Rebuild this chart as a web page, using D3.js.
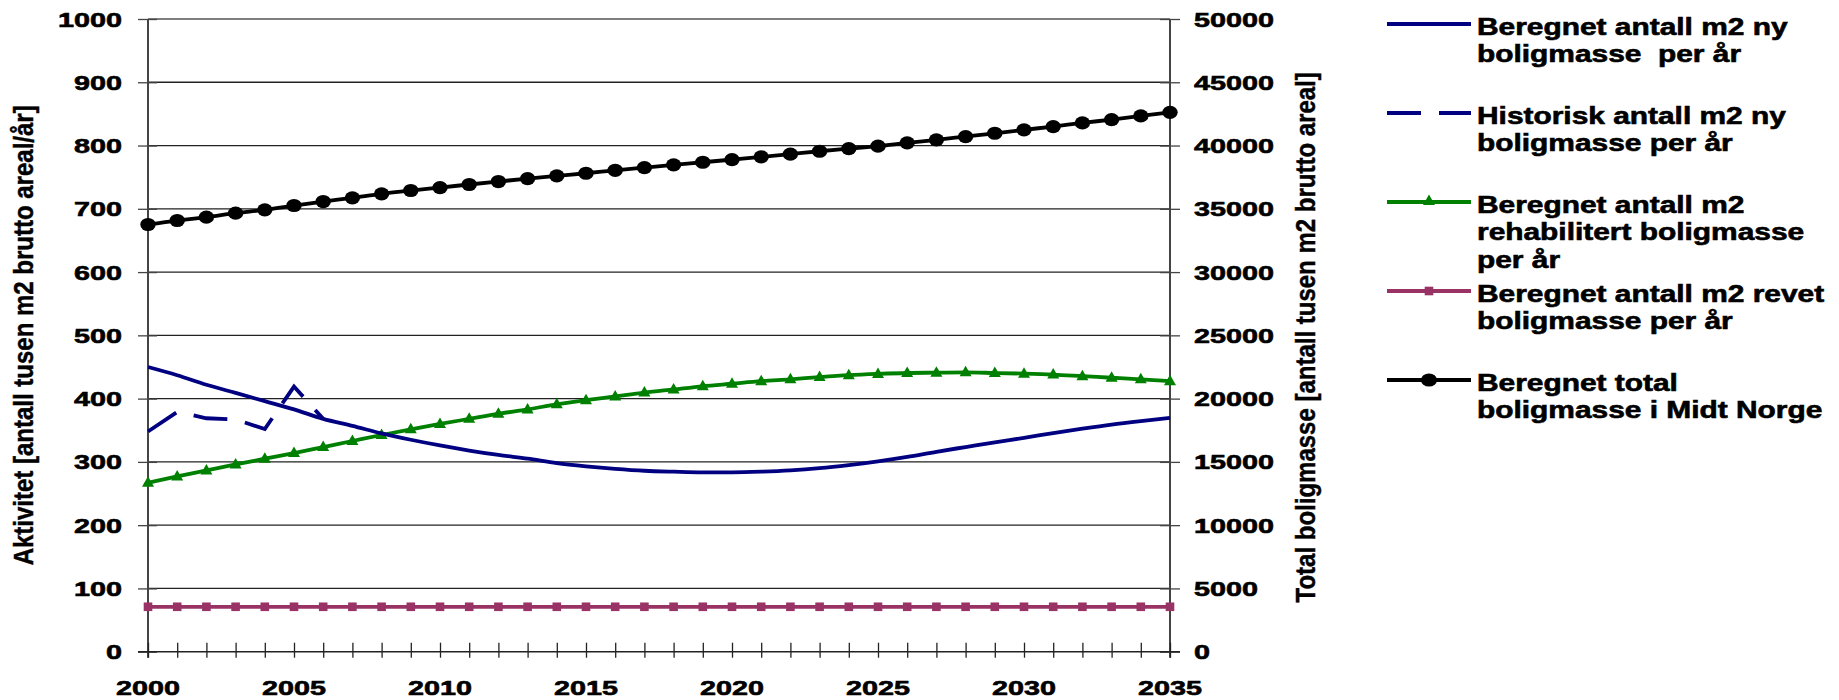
<!DOCTYPE html>
<html>
<head>
<meta charset="utf-8">
<script src="https://cdn.jsdelivr.net/npm/d3@7"></script>
<style>
  html, body { margin: 0; padding: 0; background: #fff; }
  svg { display: block; }
  text { font-family: "Liberation Sans", Arial, sans-serif; font-weight: bold; fill: #000; white-space: pre; }
  .heavy { stroke: #000; stroke-width: 0.6px; }
</style>
</head>
<body>
<svg id="chart" width="1839" height="700"></svg>
<script>
// Years on the x axis
const years = [2000, 2001, 2002, 2003, 2004, 2005, 2006, 2007, 2008, 2009,
  2010, 2011, 2012, 2013, 2014, 2015, 2016, 2017, 2018, 2019,
  2020, 2021, 2022, 2023, 2024, 2025, 2026, 2027, 2028, 2029,
  2030, 2031, 2032, 2033, 2034, 2035];

// Calculated new housing area per year (thousand m2, left axis)
const newArea = [450, 437, 422, 409, 396, 383, 368, 357, 345, 335,
  326, 318, 311, 305, 298, 293, 289, 286, 284.5, 283.5,
  283.5, 284.5, 286.5, 290, 295, 301, 308, 316, 323.5, 331,
  338, 345.5, 352.5, 359, 364.5, 369.5];

// Historical new housing area per year (left axis)
const histYears = [2000, 2001, 2002, 2003, 2004, 2005, 2006];
const histArea = [348, 379, 369, 367, 352, 419, 368];

// Rehabilitated housing area per year (left axis)
const rehabArea = [267, 277, 286.5, 296, 305, 314, 323.5, 333, 342.5, 351.5,
  360, 368, 376, 383, 391, 397.5, 403.5, 409.5, 414.5, 419.5,
  423.5, 427.5, 430.5, 434, 437, 439, 440.5, 441, 441.5, 440.5,
  439.5, 438, 435.5, 433, 430.5, 427.5];

// Demolished housing area per year (left axis)
const demolishedArea = [71, 71, 71, 71, 71, 71, 71, 71, 71, 71,
  71, 71, 71, 71, 71, 71, 71, 71, 71, 71,
  71, 71, 71, 71, 71, 71, 71, 71, 71, 71,
  71, 71, 71, 71, 71, 71];

// Total housing stock in Midt-Norge (thousand m2, right axis)
const totalStock = [33760, 34075, 34340, 34655, 34920, 35260, 35575, 35870, 36185, 36445,
  36680, 36920, 37155, 37390, 37605, 37810, 38045, 38260, 38475, 38680,
  38890, 39105, 39325, 39550, 39750, 39950, 40215, 40450, 40710, 40970,
  41240, 41500, 41790, 42050, 42340, 42625];

// Tick values
const leftTicks = [0, 100, 200, 300, 400, 500, 600, 700, 800, 900, 1000];
const rightTicks = [0, 5000, 10000, 15000, 20000, 25000, 30000, 35000, 40000, 45000, 50000];
const yearLabels = [2000, 2005, 2010, 2015, 2020, 2025, 2030, 2035];

const legendItems = [
  { key: "new", lines: ["Beregnet antall m2 ny", "boligmasse  per år"] },
  { key: "hist", lines: ["Historisk antall m2 ny", "boligmasse per år"] },
  { key: "rehab", lines: ["Beregnet antall m2", "rehabilitert boligmasse", "per år"] },
  { key: "demol", lines: ["Beregnet antall m2 revet", "boligmasse per år"] },
  { key: "total", lines: ["Beregnet total", "boligmasse i Midt Norge"] }
];

const colors = { new: "#000080", hist: "#000080", rehab: "#008000", demol: "#993366", total: "#000000" };
const lineW = 3.8;

const svg = d3.select("#chart");

const plot = { left: 148, right: 1170, top: 19, bottom: 651.7 };
const x = d3.scaleLinear().domain([2000, 2035]).range([plot.left, plot.right]);
const yL = d3.scaleLinear().domain([0, 1000]).range([plot.bottom, plot.top]);
const yR = d3.scaleLinear().domain([0, 50000]).range([plot.bottom, plot.top]);

// Horizontal gridlines
svg.append("g").selectAll("line").data(leftTicks.filter(d => d > 0)).join("line")
  .attr("x1", plot.left).attr("x2", plot.right)
  .attr("y1", d => yL(d)).attr("y2", d => yL(d))
  .attr("stroke", (d) => d === 1000 ? "#555" : "#222").attr("stroke-width", 1.3);

// Left axis
const leftAxis = svg.append("g").attr("transform", `translate(${plot.left},0)`)
  .call(d3.axisLeft(yL).tickValues(leftTicks).tickSize(0).tickFormat(""));
leftAxis.select(".domain").remove();
leftAxis.selectAll(".tick line").attr("x1", -10).attr("x2", 9).attr("stroke", "#444").attr("stroke-width", 1.3);
svg.append("line").attr("x1", plot.left).attr("x2", plot.left).attr("y1", plot.top).attr("y2", plot.bottom + 6)
  .attr("stroke", "#444").attr("stroke-width", 2);

// Right axis
const rightAxis = svg.append("g").attr("transform", `translate(${plot.right},0)`)
  .call(d3.axisRight(yR).tickValues(rightTicks).tickSize(0).tickFormat(""));
rightAxis.select(".domain").remove();
rightAxis.selectAll(".tick line").attr("x1", -10).attr("x2", 10).attr("stroke", "#444").attr("stroke-width", 1.3);
svg.append("line").attr("x1", plot.right).attr("x2", plot.right).attr("y1", plot.top).attr("y2", plot.bottom + 6)
  .attr("stroke", "#444").attr("stroke-width", 2);

// Bottom axis with yearly ticks
const bottomAxis = svg.append("g").attr("transform", `translate(0,${plot.bottom})`)
  .call(d3.axisBottom(x).tickValues(years).tickSize(0).tickFormat(""));
bottomAxis.select(".domain").remove();
bottomAxis.selectAll(".tick line").attr("y1", -9).attr("y2", 6).attr("stroke", "#222").attr("stroke-width", 1.3);
svg.append("line").attr("x1", plot.left - 10).attr("x2", plot.right + 10).attr("y1", plot.bottom).attr("y2", plot.bottom)
  .attr("stroke", "#222").attr("stroke-width", 1.5);

// Horizontally stretched text helper
function label(g, str, tx, ty, size, sx, anchor) {
  return g.append("text")
    .attr("class", "heavy")
    .attr("transform", `translate(${tx},${ty}) scale(${sx},1)`)
    .attr("text-anchor", anchor)
    .style("font-size", size + "px")
    .text(str);
}

const tickFont = 21, tickSX = 1.37;
const lbl = svg.append("g");
leftTicks.forEach(d => label(lbl, String(d), 122, yL(d) + 7.5, tickFont, tickSX, "end"));
rightTicks.forEach(d => label(lbl, String(d), 1194, yR(d) + 7.5, tickFont, tickSX, "start"));
yearLabels.forEach(d => label(lbl, String(d), x(d), 695, tickFont, tickSX, "middle"));

// Axis titles
svg.append("text")
  .attr("class", "heavy").style("stroke-width", "0.4px")
  .attr("transform", `translate(33,${(plot.top + plot.bottom) / 2}) scale(1.16,1) rotate(-90)`)
  .attr("text-anchor", "middle").style("font-size", "24px")
  .text("Aktivitet [antall tusen m2 brutto areal/år]");
svg.append("text")
  .attr("class", "heavy").style("stroke-width", "0.4px")
  .attr("transform", `translate(1315,${(plot.top + plot.bottom) / 2 + 2}) scale(1.16,1) rotate(-90)`)
  .attr("text-anchor", "middle").style("font-size", "24px")
  .text("Total boligmasse [antall tusen m2 brutto areal]");

// Series
const lineL = (xs, ys) => d3.line().x((d, i) => x(xs[i])).y(d => yL(d)).curve(d3.curveMonotoneX)(ys);
const lineR = (xs, ys) => d3.line().x((d, i) => x(xs[i])).y(d => yR(d)).curve(d3.curveMonotoneX)(ys);

const series = svg.append("g");

// Demolished (squares)
series.append("path").attr("d", lineL(years, demolishedArea))
  .attr("fill", "none").attr("stroke", colors.demol).attr("stroke-width", lineW);
series.append("g").selectAll("rect").data(demolishedArea).join("rect")
  .attr("x", (d, i) => x(years[i]) - 4.3).attr("y", d => yL(d) - 4.3)
  .attr("width", 8.6).attr("height", 8.6).attr("fill", colors.demol);

// Rehabilitated (triangles)
series.append("path").attr("d", lineL(years, rehabArea))
  .attr("fill", "none").attr("stroke", colors.rehab).attr("stroke-width", lineW);
const tri = (cx, cy) => `M${cx},${cy - 6.5}L${cx + 6},${cy + 4}L${cx - 6},${cy + 4}Z`;
series.append("g").selectAll("path").data(rehabArea).join("path")
  .attr("d", (d, i) => tri(x(years[i]), yL(d))).attr("fill", colors.rehab);

// Calculated new area
series.append("path").attr("d", lineL(years, newArea))
  .attr("fill", "none").attr("stroke", colors.new).attr("stroke-width", lineW);

// Historical new area (dashed)
series.append("path").attr("d", d3.line().x((d, i) => x(histYears[i])).y(d => yL(d))(histArea))
  .attr("fill", "none").attr("stroke", colors.hist).attr("stroke-width", lineW)
  .attr("stroke-dasharray", "34,18");

// Total stock (circles, right axis)
series.append("path").attr("d", lineR(years, totalStock))
  .attr("fill", "none").attr("stroke", colors.total).attr("stroke-width", lineW);
series.append("g").selectAll("ellipse").data(totalStock).join("ellipse")
  .attr("cx", (d, i) => x(years[i])).attr("cy", d => yR(d))
  .attr("rx", 7.7).attr("ry", 6.6).attr("fill", colors.total);

// Legend
const legendY = { new: 24, hist: 113, rehab: 202, demol: 291, total: 380 };
const lg = svg.append("g");
legendItems.forEach(item => {
  const ly = legendY[item.key];
  const c = colors[item.key];
  const ln = lg.append("line").attr("x1", 1387).attr("x2", 1471).attr("y1", ly).attr("y2", ly)
    .attr("stroke", c).attr("stroke-width", lineW);
  if (item.key === "hist") ln.attr("stroke-dasharray", "34,18");
  if (item.key === "rehab") lg.append("path").attr("d", tri(1429, ly - 1)).attr("fill", c);
  if (item.key === "demol") lg.append("rect").attr("x", 1429 - 4.3).attr("y", ly - 4.3).attr("width", 8.6).attr("height", 8.6).attr("fill", c);
  if (item.key === "total") lg.append("ellipse").attr("cx", 1429).attr("cy", ly).attr("rx", 8).attr("ry", 6.6).attr("fill", c);
  item.lines.forEach((t, j) => label(lg, t, 1477, ly + 11 + j * 27.3, 23, 1.3, "start"));
});
</script>
</body>
</html>
